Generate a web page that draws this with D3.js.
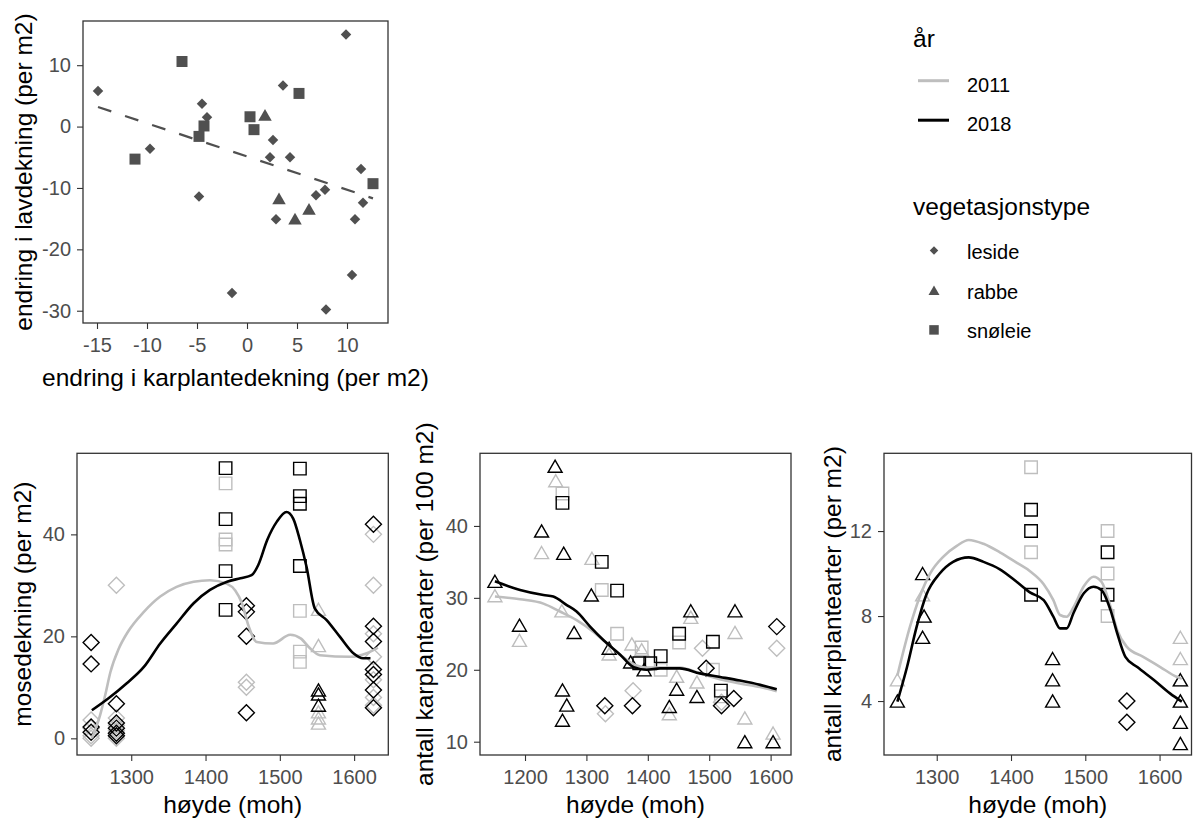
<!DOCTYPE html>
<html>
<head>
<meta charset="utf-8">
<script src="https://cdn.jsdelivr.net/npm/d3@7"></script>
<style>
  body { margin: 0; background: #fff; }
  svg text { font-family: "Liberation Sans", Arial, sans-serif; }
</style>
</head>
<body>
<svg id="chart"></svg>
<script>
// ---------- data ----------
const vegTypes = ["leside", "rabbe", "snøleie"];
const years = [2011, 2018];

// top panel: [endring karplantedekning, endring lavdekning]
const changeLeside = [
  [-14.9, 5.8], [-4.5, 3.7], [-4.0, 1.5], [-9.7, -3.6], [-4.8, -11.4], [-1.5, -27.1],
  [3.6, 6.7], [9.9, 15.0], [2.6, -2.2], [2.3, -5.0], [4.3, -5.0], [2.9, -15.1],
  [6.9, -11.2], [7.8, -10.3], [11.4, -6.9], [11.6, -12.4], [10.8, -15.1], [10.5, -24.2], [7.9, -29.8]
];
const changeRabbe = [[1.8, 1.9], [3.2, -11.7], [4.8, -15.0], [6.2, -13.4]];
const changeSnoleie = [
  [-6.5, 10.6], [5.2, 5.4], [0.3, 1.6], [0.7, -0.5], [-4.3, 0.1], [-4.8, -1.6], [-11.2, -5.3], [12.6, -9.3]
];
const changeFit = [[-14.9, 3.2], [12.6, -11.7]];
const changeXTicks = [-15, -10, -5, 0, 5, 10];
const changeYTicks = [-30, -20, -10, 0, 10];

// moss cover: [type, year, høyde, mosedekning]
const mossPoints = [
  ["leside", 2011, 1246, 3.6], ["leside", 2011, 1246, 2], ["leside", 2011, 1246, 0.5], ["leside", 2011, 1246, 0],
  ["leside", 2011, 1280, 30], ["leside", 2011, 1280, 4], ["leside", 2011, 1280, 2.5], ["leside", 2011, 1280, 1.5], ["leside", 2011, 1280, 0],
  ["leside", 2011, 1455, 11], ["leside", 2011, 1455, 10],
  ["leside", 2011, 1626, 40], ["leside", 2011, 1626, 30], ["leside", 2011, 1626, 20.5], ["leside", 2011, 1626, 16],
  ["leside", 2011, 1626, 11.5], ["leside", 2011, 1626, 8], ["leside", 2011, 1626, 6.5],
  ["snøleie", 2011, 1427, 50], ["snøleie", 2011, 1427, 39], ["snøleie", 2011, 1427, 38],
  ["snøleie", 2011, 1527, 25], ["snøleie", 2011, 1527, 17], ["snøleie", 2011, 1527, 15],
  ["rabbe", 2011, 1552, 25.3], ["rabbe", 2011, 1552, 18.2], ["rabbe", 2011, 1552, 5.2], ["rabbe", 2011, 1552, 4], ["rabbe", 2011, 1552, 3],
  ["leside", 2018, 1246, 18.8], ["leside", 2018, 1246, 14.6], ["leside", 2018, 1246, 2.2], ["leside", 2018, 1246, 1.2],
  ["leside", 2018, 1280, 6.8], ["leside", 2018, 1280, 3], ["leside", 2018, 1280, 2], ["leside", 2018, 1280, 1], ["leside", 2018, 1280, 0.5],
  ["leside", 2018, 1455, 26], ["leside", 2018, 1455, 24.8], ["leside", 2018, 1455, 20], ["leside", 2018, 1455, 5],
  ["leside", 2018, 1626, 42], ["leside", 2018, 1626, 22], ["leside", 2018, 1626, 19], ["leside", 2018, 1626, 13.5],
  ["leside", 2018, 1626, 12.5], ["leside", 2018, 1626, 9.5], ["leside", 2018, 1626, 6],
  ["snøleie", 2018, 1427, 53], ["snøleie", 2018, 1427, 43], ["snøleie", 2018, 1427, 32.8], ["snøleie", 2018, 1427, 25.2],
  ["snøleie", 2018, 1527, 52.9], ["snøleie", 2018, 1527, 47.5], ["snøleie", 2018, 1527, 46], ["snøleie", 2018, 1527, 33.8],
  ["rabbe", 2018, 1552, 9.5], ["rabbe", 2018, 1552, 8.7], ["rabbe", 2018, 1552, 6.5]
];
const mossSmooth2011 = [
  [1247, 0], [1258, 4.5], [1265, 8.5], [1272, 13], [1283, 17.5], [1296, 21], [1317, 24.8], [1339, 27.8],
  [1361, 29.7], [1384, 30.7], [1406, 31], [1429, 30.3], [1440, 29], [1449, 26.5], [1458, 22], [1469, 18.9],
  [1491, 18.6], [1514, 20.3], [1528, 19.6], [1541, 17.6], [1554, 16.3], [1595, 16], [1617, 16.7], [1632, 17.8]
];
const mossSmooth2018 = [
  [1247, 5.5], [1269, 7.8], [1294, 10.8], [1317, 14], [1339, 18.6], [1361, 22.5], [1384, 26.5], [1406, 29.1],
  [1429, 30.7], [1447, 31.4], [1462, 32], [1471, 34], [1483, 38.9], [1496, 42.5], [1509, 44.4], [1518, 43.1],
  [1527, 38.9], [1536, 33.6], [1547, 25.5], [1563, 23.2], [1581, 19.9], [1599, 16.7], [1612, 15.7], [1622, 15.7]
];
const mossXTicks = [1300, 1400, 1500, 1600];
const mossYTicks = [0, 20, 40];

// species per 100 m2: [type, year, høyde, antall]
const plotPoints = [
  ["rabbe", 2011, 1250, 46.3], ["rabbe", 2011, 1227, 36.3], ["rabbe", 2011, 1309, 35.5], ["rabbe", 2011, 1151, 30.3],
  ["rabbe", 2011, 1191, 24.1], ["rabbe", 2011, 1260, 28.2], ["rabbe", 2011, 1337, 22.2], ["rabbe", 2011, 1374, 23.6],
  ["rabbe", 2011, 1390, 22.8], ["rabbe", 2011, 1470, 27.3], ["rabbe", 2011, 1542, 25.2], ["rabbe", 2011, 1447, 19.1],
  ["rabbe", 2011, 1480, 18.3], ["rabbe", 2011, 1435, 13.9], ["rabbe", 2011, 1558, 13.3], ["rabbe", 2011, 1604, 11.2],
  ["snøleie", 2011, 1261, 44.5], ["snøleie", 2011, 1325, 31.1], ["snøleie", 2011, 1350, 25], ["snøleie", 2011, 1390, 23.1],
  ["snøleie", 2011, 1421, 20], ["snøleie", 2011, 1451, 23.8], ["snøleie", 2011, 1506, 20], ["snøleie", 2011, 1519, 16.3],
  ["leside", 2011, 1331, 13.9], ["leside", 2011, 1376, 17.1], ["leside", 2011, 1489, 23], ["leside", 2011, 1520, 15.5], ["leside", 2011, 1610, 23],
  ["rabbe", 2018, 1249, 48.3], ["rabbe", 2018, 1227, 39.3], ["rabbe", 2018, 1263, 36.2], ["rabbe", 2018, 1151, 32.3],
  ["rabbe", 2018, 1308, 30.4], ["rabbe", 2018, 1191, 26.2], ["rabbe", 2018, 1280, 25.2], ["rabbe", 2018, 1337, 23.0],
  ["rabbe", 2018, 1372, 21.1], ["rabbe", 2018, 1394, 20], ["rabbe", 2018, 1470, 28.2], ["rabbe", 2018, 1542, 28.2],
  ["rabbe", 2018, 1261, 17.2], ["rabbe", 2018, 1268, 15.1], ["rabbe", 2018, 1261, 13], ["rabbe", 2018, 1447, 17.3],
  ["rabbe", 2018, 1480, 16.3], ["rabbe", 2018, 1435, 14.9], ["rabbe", 2018, 1558, 10], ["rabbe", 2018, 1604, 10],
  ["snøleie", 2018, 1261, 43.2], ["snøleie", 2018, 1325, 35], ["snøleie", 2018, 1350, 31], ["snøleie", 2018, 1386, 20.9],
  ["snøleie", 2018, 1404, 20.9], ["snøleie", 2018, 1421, 21.9], ["snøleie", 2018, 1451, 25], ["snøleie", 2018, 1506, 23.9],
  ["snøleie", 2018, 1519, 17.1],
  ["leside", 2018, 1330, 15], ["leside", 2018, 1375, 15], ["leside", 2018, 1495, 20.2], ["leside", 2018, 1520, 15],
  ["leside", 2018, 1540, 16], ["leside", 2018, 1610, 26]
];
const plotSmooth2011 = [
  [1151, 30.2], [1192, 29.8], [1230, 29.2], [1257, 28.1], [1284, 26.9], [1311, 25.3], [1333, 23.7], [1355, 22.1],
  [1376, 20.8], [1398, 20.3], [1420, 20.3], [1452, 20.3], [1485, 19.5], [1517, 18.7], [1550, 18.1], [1583, 17.6], [1610, 17]
];
const plotSmooth2018 = [
  [1151, 32.3], [1192, 31.1], [1230, 30.4], [1246, 30.2], [1268, 29], [1284, 28.1], [1306, 26], [1328, 24.1],
  [1355, 22.1], [1376, 20.4], [1398, 20], [1420, 20.2], [1452, 20.2], [1485, 19.5], [1518, 19], [1550, 18.5],
  [1583, 17.9], [1610, 17.3]
];
const plotXTicks = [1200, 1300, 1400, 1500, 1600];
const plotYTicks = [10, 20, 30, 40];

// species per m2: [type, year, høyde, antall]
const squarePoints = [
  ["rabbe", 2011, 1247, 5], ["rabbe", 2011, 1281, 9], ["rabbe", 2011, 1283, 8], ["rabbe", 2011, 1281, 7],
  ["rabbe", 2011, 1628, 7], ["rabbe", 2011, 1628, 6], ["rabbe", 2011, 1628, 5], ["rabbe", 2011, 1628, 4],
  ["snøleie", 2011, 1427, 15], ["snøleie", 2011, 1427, 11], ["snøleie", 2011, 1530, 12], ["snøleie", 2011, 1530, 10], ["snøleie", 2011, 1530, 8],
  ["rabbe", 2018, 1247, 4], ["rabbe", 2018, 1281, 10], ["rabbe", 2018, 1283, 8], ["rabbe", 2018, 1281, 7],
  ["rabbe", 2018, 1456, 6], ["rabbe", 2018, 1456, 5], ["rabbe", 2018, 1456, 4],
  ["rabbe", 2018, 1628, 5], ["rabbe", 2018, 1628, 4], ["rabbe", 2018, 1628, 3], ["rabbe", 2018, 1628, 2],
  ["snøleie", 2018, 1427, 13], ["snøleie", 2018, 1427, 12], ["snøleie", 2018, 1427, 9],
  ["snøleie", 2018, 1530, 11], ["snøleie", 2018, 1530, 9],
  ["leside", 2018, 1556, 4], ["leside", 2018, 1556, 3]
];
const squareSmooth2011 = [
  [1247, 5.2], [1264, 7.5], [1277, 8.9], [1291, 10], [1309, 10.8], [1327, 11.3], [1343, 11.58], [1363, 11.4],
  [1385, 11], [1408, 10.5], [1426, 10.1], [1444, 9.5], [1457, 8.75], [1466, 8.05], [1475, 7.97], [1484, 8.4],
  [1498, 9.4], [1511, 9.85], [1522, 9.6], [1534, 8.44], [1543, 7.34], [1556, 6.55], [1578, 6.08], [1601, 5.6],
  [1623, 5.14], [1630, 5.05]
];
const squareSmooth2018 = [
  [1247, 3.97], [1260, 5.6], [1273, 7.5], [1286, 9], [1304, 10], [1322, 10.55], [1343, 10.76], [1363, 10.55],
  [1385, 10.2], [1408, 9.6], [1426, 9.1], [1444, 8.75], [1457, 7.97], [1466, 7.42], [1475, 7.42], [1484, 8.13],
  [1498, 9.07], [1511, 9.38], [1522, 9.22], [1534, 8.28], [1543, 7.19], [1554, 6.08], [1570, 5.6], [1592, 5],
  [1614, 4.36], [1630, 3.97]
];
const squareXTicks = [1300, 1400, 1500, 1600];
const squareYTicks = [4, 8, 12];

// ---------- drawing ----------
const FONT = "'Liberation Sans', Arial, sans-serif";
const yearColor = { 2011: "#bebebe", 2018: "#000000" };
const solidSize = { "leside": 10.5, "rabbe": 13.5, "snøleie": 11 };
const openSize = { "leside": 16, "rabbe": 14, "snøleie": 12.5 };
const keySize = { "leside": 8.5, "rabbe": 11, "snøleie": 9.5 };

const svg = d3.select("#chart").attr("width", 1193).attr("height", 823);

function shapePath(type, size) {
  const h = size / 2;
  if (type === "leside") return `M0,${-h}L${h},0L0,${h}L${-h},0Z`;
  if (type === "rabbe") {
    const t = size * 0.866 / 2;
    return `M0,${-t}L${h},${t}L${-h},${t}Z`;
  }
  return `M${-h},${-h}H${h}V${h}H${-h}Z`;
}

function makePanel(box, xDomain, yDomain, xTicks, yTicks, xTitle, yTitle, yTitleX, xTitleY) {
  const x = d3.scaleLinear().domain(xDomain).range([box.left, box.right]);
  const y = d3.scaleLinear().domain(yDomain).range([box.bottom, box.top]);
  const fmt = d => String(d);

  const xAxis = svg.append("g")
    .attr("transform", `translate(0,${box.bottom})`)
    .call(d3.axisBottom(x).tickValues(xTicks).tickSize(6).tickPadding(9).tickFormat(fmt));
  const yAxis = svg.append("g")
    .attr("transform", `translate(${box.left},0)`)
    .call(d3.axisLeft(y).tickValues(yTicks).tickSize(6).tickPadding(6).tickFormat(fmt));

  [xAxis, yAxis].forEach(a => {
    a.attr("font-family", FONT).attr("font-size", 20);
    a.select(".domain").remove();
    a.selectAll(".tick line").attr("stroke", "#333").attr("stroke-width", 1.1);
    a.selectAll(".tick text").attr("fill", "#4d4d4d");
  });

  svg.append("text")
    .attr("x", (box.left + box.right) / 2)
    .attr("y", xTitleY)
    .attr("text-anchor", "middle")
    .attr("font-size", 24.5)
    .attr("fill", "#000")
    .text(xTitle);

  svg.append("text")
    .attr("transform", `translate(${yTitleX},${(box.top + box.bottom) / 2}) rotate(-90)`)
    .attr("text-anchor", "middle")
    .attr("font-size", 24.5)
    .attr("fill", "#000")
    .text(yTitle);

  return { x, y, layer: svg.append("g") };
}

function addBorder(box) {
  svg.append("rect")
    .attr("x", box.left)
    .attr("y", box.top)
    .attr("width", box.right - box.left)
    .attr("height", box.bottom - box.top)
    .attr("fill", "none")
    .attr("stroke", "#333")
    .attr("stroke-width", 1.3);
}

function drawElevationPanel(box, xDomain, yDomain, xTicks, yTicks, yTitle, yTitleX, points, smooth2011, smooth2018) {
  const p = makePanel(box, xDomain, yDomain, xTicks, yTicks, "høyde (moh)", yTitle, yTitleX, 813);

  // grey 2011 first, black 2018 on top
  const sorted = points.slice().sort((a, b) => a[1] - b[1]);
  p.layer.selectAll("path.pt")
    .data(sorted)
    .join("path")
    .attr("class", "pt")
    .attr("transform", d => `translate(${p.x(d[2])},${p.y(d[3])})`)
    .attr("d", d => shapePath(d[0], openSize[d[0]]))
    .attr("fill", "none")
    .attr("stroke", d => yearColor[d[1]])
    .attr("stroke-width", 1.4);

  const line = d3.line()
    .x(d => p.x(d[0]))
    .y(d => p.y(d[1]))
    .curve(d3.curveMonotoneX);

  [[smooth2011, 2011], [smooth2018, 2018]].forEach(([pts, yr]) => {
    p.layer.append("path")
      .attr("d", line(pts))
      .attr("fill", "none")
      .attr("stroke", yearColor[yr])
      .attr("stroke-width", 2.6)
      .attr("stroke-linejoin", "round");
  });

  addBorder(box);
}

// --- top panel: change scatter ---
const changeBox = { left: 83, top: 21, right: 388, bottom: 323 };
const changePanel = makePanel(changeBox, [-16.4, 14.1], [-32.0, 17.2], changeXTicks, changeYTicks,
  "endring i karplantedekning (per m2)", "endring i lavdekning (per m2)", 32, 386);

const changePoints = [
  ...changeLeside.map(d => ["leside", ...d]),
  ...changeRabbe.map(d => ["rabbe", ...d]),
  ...changeSnoleie.map(d => ["snøleie", ...d])
];

changePanel.layer.append("path")
  .attr("d", d3.line().x(d => changePanel.x(d[0])).y(d => changePanel.y(d[1]))(changeFit))
  .attr("fill", "none")
  .attr("stroke", "#505050")
  .attr("stroke-width", 2.2)
  .attr("stroke-dasharray", "14,14.5");

changePanel.layer.selectAll("path.pt")
  .data(changePoints)
  .join("path")
  .attr("class", "pt")
  .attr("transform", d => `translate(${changePanel.x(d[1])},${changePanel.y(d[2])})`)
  .attr("d", d => shapePath(d[0], solidSize[d[0]]))
  .attr("fill", "#505050");

addBorder(changeBox);

// --- bottom panels ---
drawElevationPanel({ left: 77, top: 453.3, right: 388.3, bottom: 755 }, [1227, 1646], [-3.27, 55.9],
  mossXTicks, mossYTicks, "mosedekning (per m2)", 31, mossPoints, mossSmooth2011, mossSmooth2018);

drawElevationPanel({ left: 480, top: 453.3, right: 791, bottom: 755 }, [1126.7, 1633.2], [8.15, 50.1],
  plotXTicks, plotYTicks, "antall karplantearter (per 100 m2)", 433, plotPoints, plotSmooth2011, plotSmooth2018);

drawElevationPanel({ left: 884, top: 453.3, right: 1191.5, bottom: 755 }, [1229, 1643], [1.46, 15.66],
  squareXTicks, squareYTicks, "antall karplantearter (per m2)", 841, squarePoints, squareSmooth2011, squareSmooth2018);

// --- legends ---
const legend = svg.append("g").attr("font-family", FONT);

legend.append("text").attr("x", 913).attr("y", 46.5).attr("font-size", 24.5).text("år");
years.forEach((yr, i) => {
  const cy = 80.7 + i * 39.5;
  legend.append("line")
    .attr("x1", 918).attr("x2", 949)
    .attr("y1", cy).attr("y2", cy)
    .attr("stroke", yearColor[yr])
    .attr("stroke-width", 3);
  legend.append("text")
    .attr("x", 967).attr("y", cy + 11)
    .attr("font-size", 20)
    .text(yr);
});

legend.append("text").attr("x", 913).attr("y", 215).attr("font-size", 24.5).text("vegetasjonstype");
vegTypes.forEach((t, i) => {
  const cy = 250.5 + i * 39.7;
  legend.append("path")
    .attr("transform", `translate(934,${cy})`)
    .attr("d", shapePath(t, keySize[t]))
    .attr("fill", "#505050");
  legend.append("text")
    .attr("x", 967).attr("y", cy + 8.5)
    .attr("font-size", 20)
    .text(t);
});
</script>
</body>
</html>
